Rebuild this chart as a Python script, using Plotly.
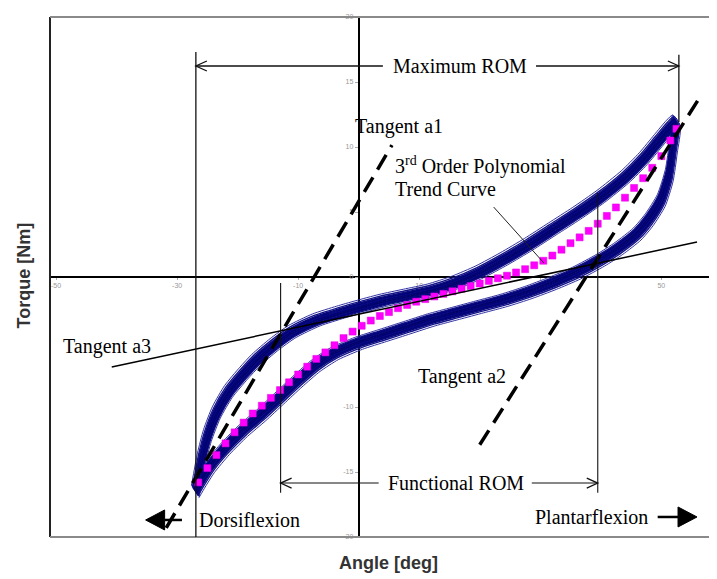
import plotly.graph_objects as go

# ---------------- data ----------------
# 3rd order polynomial trend curve (magenta squares)
trend_angle = [-26.5, -25, -23.5, -22, -20.5, -19, -17.5, -16, -14.5, -13, -11.5, -10, -8.5, -7,
               -5.5, -4, -2.5, -1, 0.5, 2, 3.5, 5, 6.5, 8, 9.5, 11, 12.5, 14, 15.5, 17, 18.5, 20,
               21.5, 23, 24.5, 26, 27.5, 29, 30.5, 32, 33.5, 35, 36.5, 38, 39.5, 41, 42.5, 44,
               45.5, 47, 48.5, 50, 51.5, 52.5]
trend_torque = [-15.8, -14.7, -13.7, -12.8, -11.95, -11.2, -10.5, -9.9, -9.3, -8.7, -8.1, -7.5,
                -6.9, -6.3, -5.8, -5.25, -4.7, -4.2, -3.75, -3.35, -3.0, -2.7, -2.4, -2.15, -1.9,
                -1.7, -1.5, -1.3, -1.1, -0.9, -0.7, -0.5, -0.3, -0.1, 0.1, 0.35, 0.6, 0.9, 1.25,
                1.65, 2.1, 2.6, 3.05, 3.55, 4.1, 4.7, 5.35, 6.1, 6.85, 7.6, 8.4, 9.3, 10.5, 11.4]

# measured hysteresis loops: loading (upper) and unloading (lower) branches
upper_angle = [-27.0, -26.0, -25.0, -23.5, -21.5, -19.0, -17.0, -14.0, -11.0, -7.0, -3.0, 0.0,
               4.0, 8.0, 12.0, 16.0, 20.0, 24.0, 28.0, 32.0, 36.0, 40.0, 44.0, 47.0, 49.5, 51.5, 52.5]
upper_torque = [-16.5, -14.0, -12.2, -10.4, -8.8, -7.4, -6.4, -5.2, -4.2, -3.3, -2.7, -2.3,
                -1.8, -1.4, -1.0, -0.4, 0.4, 1.4, 2.5, 3.7, 4.9, 6.2, 7.7, 9.1, 10.5, 11.6, 12.0]
lower_angle = [52.5, 52.0, 51.3, 50.0, 48.0, 46.0, 43.0, 40.0, 36.0, 32.0, 28.0, 24.0, 20.0,
               16.0, 12.0, 8.0, 4.0, 0.0, -4.0, -7.0, -10.0, -13.0, -16.0, -19.0, -22.0, -24.5,
               -26.0, -27.0]
lower_torque = [12.0, 10.0, 7.8, 5.9, 4.4, 3.3, 2.2, 1.3, 0.3, -0.5, -1.2, -1.8, -2.3, -2.8, -3.3,
                -3.9, -4.5, -5.1, -5.9, -6.8, -8.0, -9.3, -10.6, -11.8, -13.2, -14.6, -15.7, -16.5]
# spread of the individual trials around the branches (pixels, normal to the band)
trial_upper_spread = [-7, -5.5, -4.5, -3.5, -2.5, -1.5, -0.5, 0.5, 1.5, 2.5, 3.5, 5, 7]
trial_lower_spread = [7, 5.5, 4.5, 3.5, 2.5, 1.5, 0.5, -0.5, -1.5, -2.5, -3.5, -5, -7]
trial_colors = ["#3434a4", "#14148a", "#0a0a7c", "#000078", "#0a0a80", "#00006e", "#06066e",
                "#000078", "#0a0a80", "#000078", "#0a0a7c", "#14148a", "#3434a4"]
trial_widths = [1.0, 1.4, 1.7, 1.7, 1.7, 1.7, 1.7, 1.7, 1.7, 1.7, 1.7, 1.4, 1.0]

# tangent lines and annotation lines
tangent_a1_angle = [-31.8, 5.5]
tangent_a1_torque = [-19.3, 10.15]
tangent_a2_angle = [20.0, 56.4]
tangent_a2_torque = [-12.9, 13.85]
tangent_a3_angle = [-40.8, 55.9]
tangent_a3_torque = [-6.92, 2.69]

x_tick_vals = [-50, -30, -10, 10, 30, 50]
x_tick_text = ["-50", "-30", "-10", "10", "30", "50"]
y_tick_vals = [-20, -15, -10, -5, 0, 5, 10, 15, 20]
y_tick_text = ["-20", "-15", "-10", "-5", "0", "5", "10", "15", "20"]

X_RANGE = [-51.0, 59.2]
Y_RANGE = [-20.0, 20.0]
PX_X = 667 / (X_RANGE[1] - X_RANGE[0])   # pixels per degree
PX_Y = 520 / (Y_RANGE[1] - Y_RANGE[0])   # pixels per Nm

SERIF = "Liberation Serif, Times New Roman, serif"

fig = go.Figure()

# individual trials (band of navy lines)
for su, sl, col, w in zip(trial_upper_spread, trial_lower_spread, trial_colors, trial_widths):
    ux = [a - su * 0.55 / PX_X for a in upper_angle]
    uy = [t + su * 0.85 / PX_Y for t in upper_torque]
    lx = [a - sl * 0.55 / PX_X for a in lower_angle]
    ly = [t + sl * 0.85 / PX_Y for t in lower_torque]
    fig.add_trace(go.Scatter(x=ux + lx, y=uy + ly, mode="lines",
                             line=dict(color=col, width=w, shape="spline", smoothing=0.6),
                             hoverinfo="skip", showlegend=False))

# trend curve
fig.add_trace(go.Scatter(x=trend_angle, y=trend_torque, mode="markers",
                         marker=dict(symbol="square", size=7, color="#ff00ff",
                                     line=dict(color="#e000e0", width=0.5)),
                         showlegend=False))

# tangents
fig.add_trace(go.Scatter(x=tangent_a1_angle, y=tangent_a1_torque, mode="lines",
                         line=dict(color="black", width=3.5, dash="17px,9px"), showlegend=False))
fig.add_trace(go.Scatter(x=tangent_a2_angle, y=tangent_a2_torque, mode="lines",
                         line=dict(color="black", width=3.5, dash="17px,9px"), showlegend=False))
fig.add_trace(go.Scatter(x=tangent_a3_angle, y=tangent_a3_torque, mode="lines",
                         line=dict(color="black", width=1.5), showlegend=False))

shapes = []
# frame (left, top, bottom)
shapes.append(dict(type="line", xref="paper", yref="paper", x0=0, x1=0, y0=0, y1=1,
                   line=dict(color="#222", width=2)))
shapes.append(dict(type="line", xref="paper", yref="paper", x0=0, x1=1, y0=1, y1=1,
                   line=dict(color="#8a8a8a", width=2)))
shapes.append(dict(type="line", xref="paper", yref="paper", x0=0, x1=1, y0=0, y1=0,
                   line=dict(color="#8a8a8a", width=2)))


def vline(x, y0, y1, w=1.3):
    shapes.append(dict(type="line", x0=x, x1=x, y0=y0, y1=y1, line=dict(color="#111", width=w)))


def hline(x0, x1, y, w=1.3):
    shapes.append(dict(type="line", x0=x0, x1=x1, y0=y, y1=y, line=dict(color="#111", width=w)))


def chevron(x, y, direction):
    dx = direction * 11 / PX_X
    dy = 5 / PX_Y
    shapes.append(dict(type="path", path=f"M {x+dx},{y+dy} L {x},{y} L {x+dx},{y-dy}",
                       line=dict(color="#111", width=1.3)))


def big_arrow(tail, tip, y):
    d = 1 if tip > tail else -1
    base = tip - d * 19 / PX_X
    hh = 10 / PX_Y
    shapes.append(dict(type="line", x0=tail, x1=base, y0=y, y1=y,
                       line=dict(color="black", width=2.5)))
    shapes.append(dict(type="path", path=f"M {tip},{y} L {base},{y+hh} L {base},{y-hh} Z",
                       fillcolor="black", line=dict(color="black", width=1)))


# maximum ROM
max_l, max_r, max_y = -26.9, 52.9, 16.23
vline(max_l, 17.3, -20)
vline(max_r, 17.1, 11.9)
hline(max_l, 4.0, max_y)
hline(29.3, max_r, max_y)
chevron(max_l, max_y, 1)
chevron(max_r, max_y, -1)

# functional ROM
fun_l, fun_r, fun_y = -12.9, 39.5, -15.85
vline(fun_l, -0.46, -16.6, 1.1)
vline(fun_r, 6.46, -16.6, 1.1)
hline(fun_l, 3.3, fun_y, 1.1)
hline(28.6, fun_r, fun_y, 1.1)
chevron(fun_l, fun_y, 1)
chevron(fun_r, fun_y, -1)

# pointer of the trend curve label
shapes.append(dict(type="line", x0=22.3, y0=5.38, x1=30.6, y1=1.08,
                   line=dict(color="#222", width=1)))

# direction arrows
big_arrow(-29.2, -35.2, -18.69)
big_arrow(49.4, 55.9, -18.46)

annotations = []


def label(text, x, y, xanchor="center", size=20):
    annotations.append(dict(text=text, x=x, y=y, xref="x", yref="y", showarrow=False,
                            xanchor=xanchor, yanchor="middle",
                            font=dict(family=SERIF, size=size, color="black")))


label("Maximum ROM", 16.7, max_y)
label("Functional ROM", 16.0, fun_y)
label("Tangent a1", 6.6, 11.54)
label("3<sup>rd</sup> Order Polynomial", 5.6, 8.54, xanchor="left")
label("Trend Curve", 5.6, 6.77, xanchor="left")
label("Tangent a3", -41.65, -5.38)
label("Tangent a2", 17.0, -7.69)
label("Dorsiflexion", -18.0, -18.7)
label("Plantarflexion", 38.5, -18.46)

# axis titles
annotations.append(dict(text="<b>Angle [deg]</b>", x=0.507, y=-0.05, xref="paper", yref="paper",
                        showarrow=False, xanchor="center", yanchor="middle",
                        font=dict(family="Liberation Sans, Arial, sans-serif", size=18,
                                  color="#333")))
annotations.append(dict(text="<b>Torque [Nm]</b>", x=-0.039, y=0.503, xref="paper",
                        yref="paper", showarrow=False, textangle=-90, xanchor="center",
                        yanchor="middle",
                        font=dict(family="Liberation Sans, Arial, sans-serif", size=18,
                                  color="#333")))

# the page has an 8 px body margin: the figure is sized to fit the 717x579 window
fig.update_layout(
    width=709, height=571,
    margin=dict(l=42, r=0, t=9, b=42),
    paper_bgcolor="white", plot_bgcolor="white",
    shapes=shapes, annotations=annotations, showlegend=False,
    xaxis=dict(range=X_RANGE, anchor="free", position=0.5, showgrid=False, zeroline=False,
               showline=True, linecolor="black", linewidth=2, tickvals=x_tick_vals,
               ticktext=x_tick_text, ticks="outside", ticklen=2, tickcolor="#aaa",
               tickfont=dict(size=7, color="#999", family="Liberation Sans, Arial"),
               layer="below traces", fixedrange=True),
    yaxis=dict(range=Y_RANGE, anchor="free",
               position=(0 - X_RANGE[0]) / (X_RANGE[1] - X_RANGE[0]),
               showgrid=False, zeroline=False, showline=True, linecolor="black", linewidth=2,
               tickvals=y_tick_vals, ticktext=y_tick_text, ticks="outside", ticklen=3,
               tickcolor="#aaa", tickfont=dict(size=7, color="#999",
                                               family="Liberation Sans, Arial"),
               layer="below traces", fixedrange=True),
)

fig.write_html("out.html")
